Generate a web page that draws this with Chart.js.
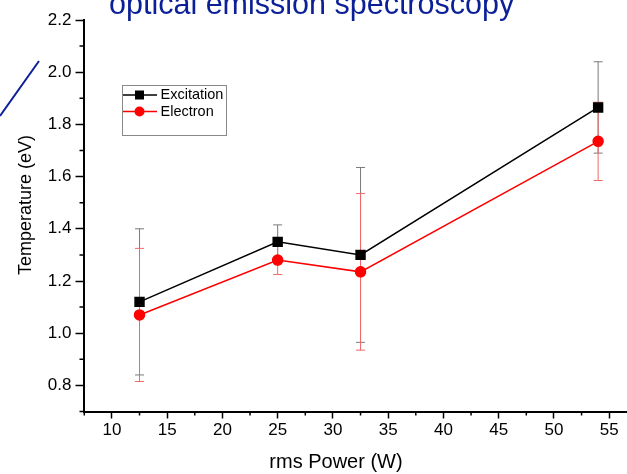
<!DOCTYPE html>
<html>
<head>
<meta charset="utf-8">
<script src="https://cdn.jsdelivr.net/npm/chart.js@4.4.0/dist/chart.umd.min.js"></script>
<style>
  html, body { margin: 0; padding: 0; background: #fff; overflow: hidden; }
  #wrap { width: 627px; height: 474px; overflow: hidden; }
</style>
</head>
<body>
<div id="wrap"><canvas id="tempChart" width="635" height="474"></canvas></div>
<script>
// data
const power = [12.5, 25, 32.5, 54];
const excitation = [1.12, 1.35, 1.30, 1.865];
const excitationErr = [0.28, 0.065, 0.335, 0.175];
const electron = [1.07, 1.28, 1.235, 1.735];
const electronErr = [0.255, 0.055, 0.30, 0.15];

const xMajor = [10, 15, 20, 25, 30, 35, 40, 45, 50, 55];
const xMinor = [7.5, 12.5, 17.5, 22.5, 27.5, 32.5, 37.5, 42.5, 47.5, 52.5];
const yMajor = [0.8, 1.0, 1.2, 1.4, 1.6, 1.8, 2.0, 2.2];
const yMinor = [0.7, 0.9, 1.1, 1.3, 1.5, 1.7, 1.9, 2.1];

const FONT = "'Liberation Sans', Arial, sans-serif";

function pts(ys) {
  return power.map((x, i) => ({ x: x, y: ys[i] }));
}

// error bars, minor ticks, axis titles, legend box and the clipped slide heading
const extras = {
  id: 'extras',
  beforeDatasetsDraw(chart) {
    const ctx = chart.ctx;
    const xs = chart.scales.x, ys = chart.scales.y;
    const sets = [
      { v: excitation, e: excitationErr, c: '#7a7a7a' },
      { v: electron, e: electronErr, c: '#f06a6a' }
    ];
    ctx.save();
    ctx.lineWidth = 1;
    sets.forEach(s => {
      ctx.strokeStyle = s.c;
      power.forEach((p, i) => {
        const px = xs.getPixelForValue(p);
        const top = ys.getPixelForValue(s.v[i] + s.e[i]);
        const bot = ys.getPixelForValue(s.v[i] - s.e[i]);
        ctx.beginPath();
        ctx.moveTo(px, top); ctx.lineTo(px, bot);
        ctx.moveTo(px - 4.5, top); ctx.lineTo(px + 4.5, top);
        ctx.moveTo(px - 4.5, bot); ctx.lineTo(px + 4.5, bot);
        ctx.stroke();
      });
    });
    ctx.restore();
  },
  afterDraw(chart) {
    const ctx = chart.ctx;
    const xs = chart.scales.x, ys = chart.scales.y;
    const area = chart.chartArea;
    ctx.save();
    // minor ticks
    ctx.strokeStyle = '#000';
    ctx.lineWidth = 1.5;
    ctx.beginPath();
    xMinor.forEach(v => {
      const px = xs.getPixelForValue(v);
      ctx.moveTo(px, area.bottom); ctx.lineTo(px, area.bottom + 4);
    });
    yMinor.forEach(v => {
      const py = ys.getPixelForValue(v);
      ctx.moveTo(area.left, py); ctx.lineTo(area.left - 4, py);
    });
    ctx.stroke();

    // axis titles
    ctx.fillStyle = '#000';
    ctx.textAlign = 'center';
    ctx.textBaseline = 'middle';
    ctx.font = '20px ' + FONT;
    ctx.fillText('rms Power (W)', 336, 462);
    ctx.save();
    ctx.translate(26, 205);
    ctx.rotate(-Math.PI / 2);
    ctx.font = '18px ' + FONT;
    ctx.fillText('Temperature (eV)', 0, 0);
    ctx.restore();
    ctx.textAlign = 'left';

    // legend
    ctx.strokeStyle = '#888';
    ctx.lineWidth = 1;
    ctx.strokeRect(122.5, 85.5, 104, 50);
    const rows = [
      { label: 'Excitation', c: '#000', y: 95, sq: true },
      { label: 'Electron', c: '#ff0000', y: 111.5, sq: false }
    ];
    ctx.font = '14.5px ' + FONT;
    ctx.textBaseline = 'middle';
    rows.forEach(r => {
      ctx.strokeStyle = r.c;
      ctx.lineWidth = 1.5;
      ctx.beginPath();
      ctx.moveTo(123, r.y); ctx.lineTo(157, r.y);
      ctx.stroke();
      ctx.fillStyle = r.c;
      if (r.sq) {
        ctx.fillRect(135, r.y - 4.5, 9, 9);
      } else {
        ctx.beginPath();
        ctx.arc(139.5, r.y, 5, 0, Math.PI * 2);
        ctx.fill();
      }
      ctx.fillStyle = '#000';
      ctx.fillText(r.label, 160.5, r.y);
    });

    // heading cut off by the slide crop + blue slash
    ctx.fillStyle = '#0b1f98';
    ctx.font = '30.5px ' + FONT;
    ctx.textBaseline = 'alphabetic';
    ctx.fillText('optical emission spectroscopy', 109, 14);
    ctx.strokeStyle = '#0b1f98';
    ctx.lineWidth = 2;
    ctx.beginPath();
    ctx.moveTo(0, 116); ctx.lineTo(39, 61);
    ctx.stroke();
    ctx.restore();
  }
};

const ctx = document.getElementById('tempChart').getContext('2d');
new Chart(ctx, {
  type: 'line',
  data: {
    datasets: [{
      label: 'Excitation',
      data: pts(excitation),
      borderColor: '#000',
      backgroundColor: '#000',
      borderWidth: 1.5,
      pointStyle: 'rect',
      pointRadius: 6.3,
      pointHoverRadius: 6.3,
      tension: 0
    }, {
      label: 'Electron',
      data: pts(electron),
      borderColor: '#ff0000',
      backgroundColor: '#ff0000',
      borderWidth: 1.5,
      pointStyle: 'circle',
      pointRadius: 5,
      pointHoverRadius: 5,
      tension: 0
    }]
  },
  options: {
    responsive: false,
    animation: false,
    events: [],
    layout: { padding: { top: 20, right: 0, left: 0, bottom: 0 } },
    plugins: { legend: { display: false }, tooltip: { enabled: false } },
    scales: {
      x: {
        type: 'linear',
        min: 7.43,
        max: 56.63,
        afterBuildTicks: s => { s.ticks = xMajor.map(v => ({ value: v })); },
        afterFit: s => { s.height = 62.5; },
        grid: { drawOnChartArea: false, tickLength: 7, tickWidth: 1.5, tickColor: '#000' },
        border: { color: '#000', width: 2 },
        ticks: { color: '#000', font: { family: FONT, size: 17 }, padding: 2, maxRotation: 0, autoSkip: false }
      },
      y: {
        type: 'linear',
        min: 0.7,
        max: 2.2,
        afterBuildTicks: s => { s.ticks = yMajor.map(v => ({ value: v })); },
        afterFit: s => { s.width = 83.5; },
        grid: { drawOnChartArea: false, tickLength: 8, tickWidth: 1.5, tickColor: '#000' },
        border: { color: '#000', width: 2 },
        ticks: { color: '#000', font: { family: FONT, size: 17 }, padding: 4, callback: v => v.toFixed(1), autoSkip: false }
      }
    }
  },
  plugins: [extras]
});
</script>
</body>
</html>
